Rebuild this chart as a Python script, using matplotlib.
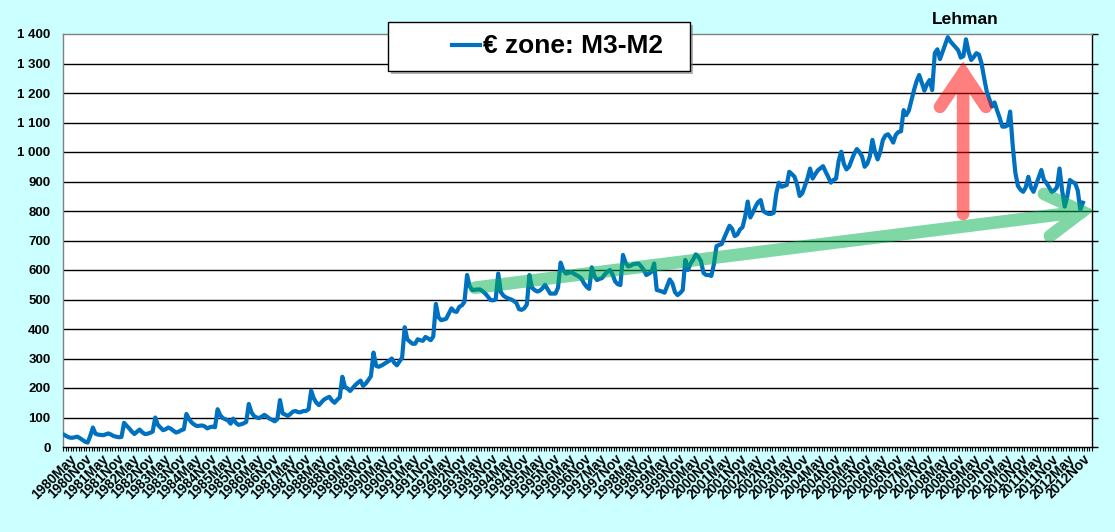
import numpy as np
import pandas as pd
from matplotlib import pyplot as plt
from matplotlib.patches import Rectangle, PathPatch
from matplotlib.path import Path
from matplotlib.lines import Line2D
from matplotlib.ticker import FuncFormatter

plt.rcParams['font.family'] = ['Liberation Sans', 'DejaVu Sans']
plt.rcParams['font.weight'] = 'bold'

# euro zone M3-M2, monthly, billions, Jan 1980 onwards
m3m2_1980s = [
    41, 36, 32, 31, 33, 35, 30, 24, 18, 15, 38, 66,
    45, 42, 41, 40, 43, 46, 42, 37, 35, 33, 34, 82,
    72, 63, 52, 44, 52, 59, 50, 44, 45, 48, 52, 100,
    75, 66, 57, 60, 66, 62, 55, 49, 52, 57, 60, 112,
    95, 83, 76, 71, 72, 73, 70, 63, 67, 69, 67, 128,
    108, 98, 94, 90, 79, 96, 82, 75, 77, 80, 85, 146,
    118, 105, 100, 98, 103, 109, 103, 96, 92, 87, 95, 159,
    114, 110, 105, 112, 120, 122, 118, 118, 122, 122, 128, 191,
    165, 150, 142, 152, 161, 166, 170, 158, 150, 160, 168, 238,
    204, 198, 190, 200, 210, 218, 225, 207, 215, 227, 240, 320,
]
m3m2_1990s = [
    275, 272, 276, 281, 287, 292, 300, 285, 277, 290, 303, 406,
    365, 357, 350, 350, 365, 362, 360, 373, 368, 362, 375, 485,
    440, 430, 432, 435, 453, 470, 460, 458, 475, 480, 492, 583,
    545, 532, 533, 534, 534, 528, 520, 510, 498, 497, 500, 588,
    525, 513, 507, 503, 500, 495, 488, 467, 465, 470, 483, 583,
    540, 532, 527, 530, 538, 550, 535, 520, 520, 520, 540, 625,
    600, 588, 590, 593, 588, 583, 578, 571, 555, 543, 536, 609,
    580, 566, 570, 573, 585, 594, 600, 585, 561, 552, 549, 651,
    625, 612, 615, 620, 621, 622, 612, 600, 583, 588, 594, 622,
    532, 530, 527, 523, 545, 568, 555, 525, 515, 522, 532, 634,
]
m3m2_2000s = [
    600, 622, 635, 653, 645, 630, 590, 583, 583, 580, 620, 681,
    685, 688, 710, 730, 750, 740, 715, 720, 737, 745, 780, 832,
    778, 795, 815, 830, 837, 800, 794, 790, 790, 794, 860, 896,
    882, 885, 888, 933, 925, 916, 890, 851, 860, 885, 910, 944,
    910, 925, 938, 945, 952, 933, 915, 896, 905, 910, 970, 1001,
    960, 941, 950, 973, 995, 1010, 1000, 985, 950, 960, 985, 1041,
    1000, 975, 1000, 1040, 1056, 1060, 1048, 1032, 1058, 1068, 1070, 1142,
    1125, 1140, 1175, 1210, 1240, 1261, 1235, 1208, 1230, 1244, 1210, 1335,
    1348, 1315, 1340, 1365, 1389, 1375, 1365, 1355, 1345, 1320, 1325, 1382,
    1340, 1312, 1322, 1335, 1330, 1300, 1250, 1205, 1180, 1154, 1168, 1140,
]
m3m2_2010s = [
    1115, 1086, 1086, 1090, 1137, 1020, 930, 885, 872, 865, 880, 916,
    880, 865, 890, 915, 939, 905, 895, 880, 865, 870, 880, 944,
    870, 815, 850, 905, 898, 894, 870, 805, 828,
]

values = np.array(m3m2_1980s + m3m2_1990s + m3m2_2000s + m3m2_2010s)

# category axis runs Jan 1980 .. Dec 2012, labels every May / Nov
months = pd.date_range('1980-01-01', '2012-12-01', freq='MS')
label_pos = [i for i, d in enumerate(months) if d.month in (5, 11)]
label_txt = [f"{months[i].year}{'May' if months[i].month == 5 else 'Nov'}" for i in label_pos]

# annotation arrows (month index, value)
green_arrow = {'start': (158, 540), 'tip': (391.7, 798), 'arms': [(377.0, 858), (379.3, 715)]}
red_arrow = {'start': (345.9, 790), 'tip': (345.9, 1268), 'arms': [(337.0, 1153), (354.7, 1153)]}

W, H = 1115, 532
fig = plt.figure(figsize=(W / 100, H / 100), dpi=100, facecolor='#CCFFFF')
ax = fig.add_axes([63 / W, 85 / H, 1029 / W, 413 / H])
ax.set_facecolor('white')

x = np.arange(len(values))
ax.plot(x, values, color='#0070C0', lw=3.0, solid_joinstyle='round', zorder=3)

for v in range(100, 1400, 100):
    ax.axhline(v, color='black', lw=1.0, zorder=1)

ax.set_xlim(-0.5, len(months) - 0.5)
ax.set_ylim(0, 1400)

for side, col in [('left', '#808080'), ('top', '#808080'), ('right', 'black'), ('bottom', 'black')]:
    ax.spines[side].set_color(col)
    ax.spines[side].set_linewidth(1.0)

ax.set_yticks(range(0, 1500, 100))
ax.yaxis.set_major_formatter(FuncFormatter(lambda v, _: f"{int(v):,}".replace(',', ' ')))
ax.tick_params(axis='y', left=False, right=True, labelleft=True, labelright=False,
               direction='out', length=4, width=1, pad=5, labelsize=9.5)

ax.set_xticks(label_pos)
ax.set_xticklabels(label_txt, rotation=45, ha='right', va='center', rotation_mode='anchor')
ax.set_xticks(np.arange(-0.5, len(months), 1), minor=True)
ax.tick_params(axis='x', which='major', length=0, pad=7, labelsize=9.8)
ax.tick_params(axis='x', which='minor', length=3, width=0.8, direction='out')


def draw_arrow(spec, color):
    verts = [spec['start'], spec['tip'], spec['arms'][0], spec['tip'], spec['arms'][1]]
    codes = [Path.MOVETO, Path.LINETO, Path.MOVETO, Path.LINETO, Path.LINETO]
    patch = PathPatch(Path(verts, codes), fill=False, edgecolor=color, lw=9.1,
                      capstyle='round', joinstyle='miter', zorder=4)
    ax.add_patch(patch)


draw_arrow(green_arrow, (0.0, 0.69, 0.31, 0.5))
draw_arrow(red_arrow, (1.0, 0.0, 0.0, 0.5))

# legend box used as the title
fig.add_artist(Rectangle((391 / W, 1 - 74 / H), 302 / W, 49 / H, transform=fig.transFigure,
                         facecolor='#7f7f7f', edgecolor='none', alpha=0.6, zorder=5))
fig.add_artist(Rectangle((388 / W, 1 - 71 / H), 302 / W, 49 / H, transform=fig.transFigure,
                         facecolor='white', edgecolor='black', lw=1.0, zorder=6))
fig.add_artist(Line2D([452 / W, 480 / W], [1 - 45 / H, 1 - 45 / H], transform=fig.transFigure,
                      color='#0070C0', lw=3.0, zorder=7))
fig.text(483 / W, 1 - 46 / H, '€ zone: M3-M2', fontsize=19, fontweight='bold',
         ha='left', va='center', zorder=7)

fig.text(965 / W, 1 - 20 / H, 'Lehman', fontsize=12.5, fontweight='bold', ha='center', va='center')

fig.savefig('out.png', dpi=100, facecolor=fig.get_facecolor())
